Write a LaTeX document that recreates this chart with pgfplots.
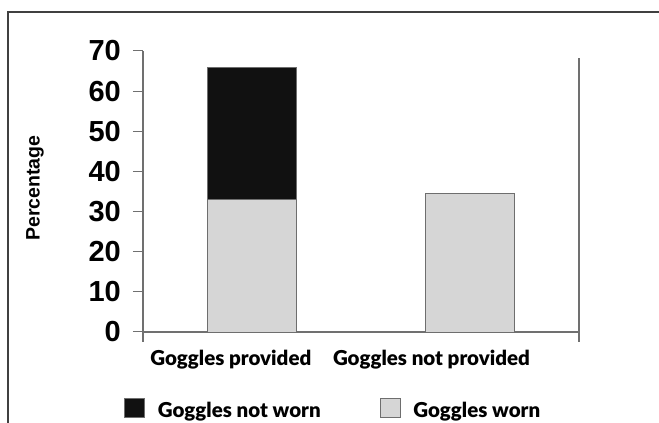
\documentclass[border=0pt]{standalone}
\usepackage{fontspec}
\setmainfont{Liberation Sans}
\newfontfamily\lato{Lato}[BoldFont={Lato Black}]
\usepackage{pgfplots}
\pgfplotsset{compat=1.18}
\definecolor{barblack}{HTML}{111111}
\definecolor{bargrey}{HTML}{D6D6D6}
\definecolor{edge}{HTML}{6E6E6E}
\definecolor{axisgrey}{HTML}{707070}
\begin{document}
\begin{tikzpicture}[x=1pt,y=1pt]
\useasboundingbox (0,0) rectangle (659,423);
\draw[color=black!75, line width=1.2pt] (8,0) -- (8,411) -- (659,411);
\node[rotate=90, font=\fontsize{19.5}{19.5}\selectfont\bfseries] at (35,235) {Percentage};
\begin{axis}[
  at={(143pt,81pt)}, anchor=south west,
  scale only axis, width=436pt, height=291pt,
  xmin=0.5, xmax=2.5, ymin=-2.5, ymax=70,
  clip=false,
  axis line style={draw=none},
  ybar stacked, bar width=0.41,
  ytick={0,10,...,70},
  ytick pos=left,
  xtick={0.903,1.823},
  xticklabels={Goggles provided, Goggles not provided},
  x tick style={draw=none},
  y tick style={axisgrey, line width=1pt},
  tick align=outside, major tick length=10pt,
  yticklabel style={font=\fontsize{29}{29}\selectfont\bfseries, anchor=east, inner sep=0pt, xshift=-12pt},
  xticklabel style={font=\lato\fontsize{20.5}{20.5}\selectfont\bfseries, anchor=base, inner sep=0pt, yshift=-14pt},
  /pgf/number format/assume math mode=true,
  legend columns=2,
  legend style={at={(-0.0436,-0.2274)}, anchor=west, draw=none, fill=none, inner sep=0pt,
    nodes={inner sep=0pt}, font=\lato\fontsize{20.5}{20.5}\selectfont\bfseries,
    /tikz/every odd column/.append style={column sep=13pt},
    /tikz/every even column/.append style={column sep=59pt}},
  legend image code/.code={\draw[#1] (0pt,-6.5pt) rectangle (20pt,12.5pt);},
  reverse legend,
]
\addplot[fill=bargrey, draw=edge, line width=0.8pt] coordinates {(1,33) (2,34.5)};
\addlegendentry{Goggles worn}
\addplot[fill=barblack, draw=edge, line width=0.8pt] coordinates {(1,33) (2,0)};
\addlegendentry{Goggles not worn}
\draw[axisgrey, line width=1.2pt] (axis cs:0.5,-2.5) -- (axis cs:0.5,70);
\draw[axisgrey, line width=1.2pt] (axis cs:0.5,0) -- (axis cs:2.5,0);
\draw[axisgrey, line width=1.2pt] (axis cs:2.5,-2.5) -- (axis cs:2.5,68.3);
\end{axis}
\end{tikzpicture}
\end{document}
